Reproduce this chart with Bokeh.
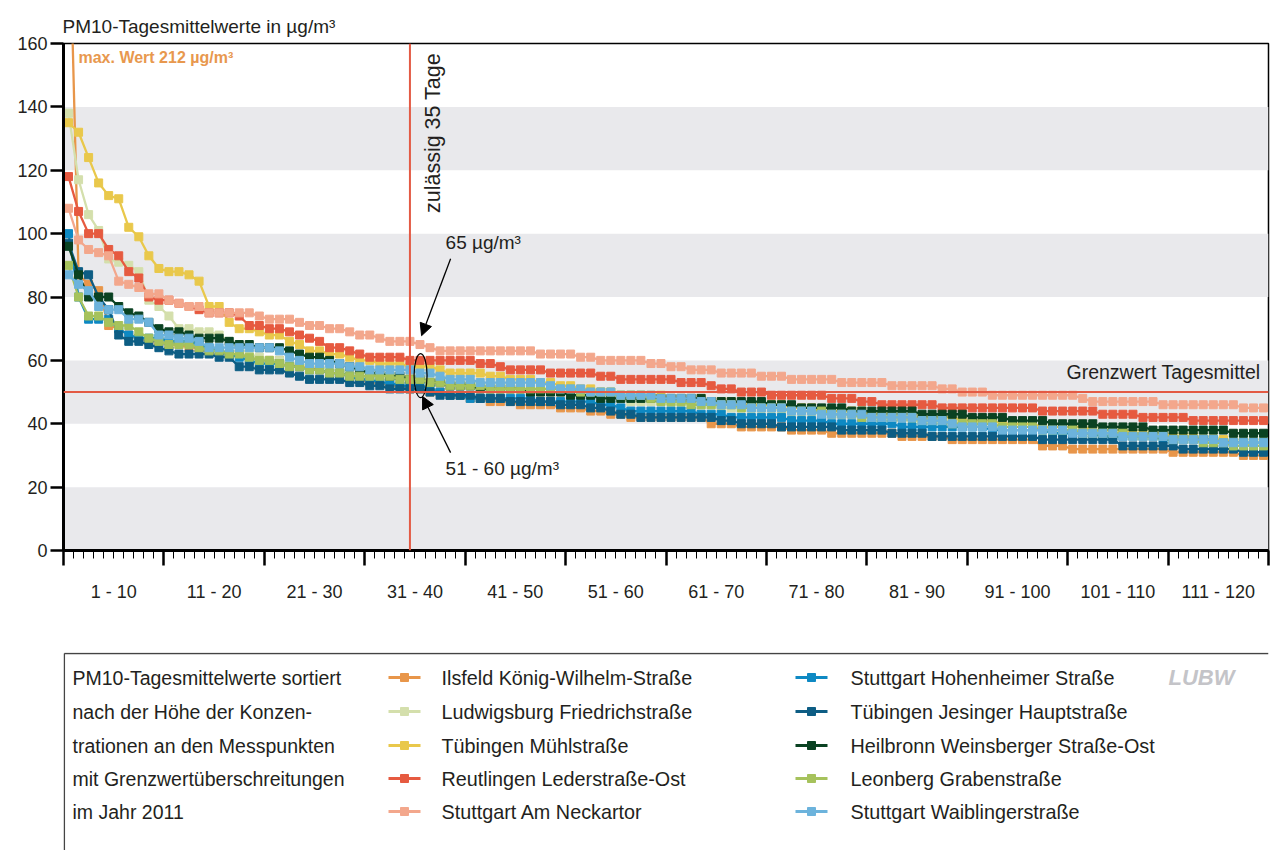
from bokeh.plotting import figure
from bokeh.models import (Range1d, FixedTicker, LinearAxis, Span, BoxAnnotation, Label,
                          Arrow, NormalHead, ColumnDataSource, CustomLabelingPolicy)
from bokeh.layouts import column
from bokeh.embed import file_html
from bokeh.resources import INLINE
from bokeh.core.properties import value

# ---------------- data ----------------
days = list(range(1, 121))
group_labels = ["1 - 10", "11 - 20", "21 - 30", "31 - 40", "41 - 50", "51 - 60",
                "61 - 70", "71 - 80", "81 - 90", "91 - 100", "101 - 110", "111 - 120"]
y_ticks = [0, 20, 40, 60, 80, 100, 120, 140, 160]

ilsfeld = [212, 87, 84, 82, 71, 70, 68, 67, 66, 66,
           65, 65, 64, 64, 63, 63, 62, 62, 61, 60,
           60, 60, 59, 58, 58, 57, 56, 56, 55, 54,
           53, 53, 52, 52, 51, 51, 50, 50, 49, 49,
           48, 48, 47, 47, 47, 46, 46, 46, 46, 45,
           45, 45, 44, 44, 43, 43, 42, 42, 42, 42,
           42, 42, 42, 42, 40, 40, 40, 39, 39, 39,
           39, 39, 38, 38, 38, 38, 37, 37, 37, 37,
           37, 37, 37, 36, 36, 36, 36, 36, 35, 35,
           35, 35, 35, 35, 35, 35, 35, 33, 33, 33,
           32, 32, 32, 32, 32, 32, 32, 32, 32, 32,
           31, 31, 31, 31, 31, 31, 31, 30, 30, 30]
ludwigsburg = [138, 117, 106, 101, 92, 91, 90, 88, 79, 77,
               74, 70, 70, 69, 69, 68, 66, 64, 62, 61,
               60, 60, 59, 59, 58, 58, 57, 57, 56, 56,
               56, 55, 55, 55, 55, 55, 54, 54, 53, 53,
               52, 52, 52, 52, 52, 51, 51, 51, 51, 51,
               50, 50, 50, 50, 49, 48, 47, 47, 47, 47,
               46, 46, 46, 46, 46, 45, 45, 45, 45, 45,
               45, 44, 44, 44, 44, 43, 43, 43, 43, 43,
               42, 42, 42, 42, 41, 41, 41, 41, 40, 40,
               40, 40, 40, 39, 39, 39, 39, 39, 38, 38,
               38, 38, 38, 37, 37, 37, 37, 37, 37, 36,
               36, 36, 36, 36, 36, 35, 35, 35, 35, 35]
muehlstrasse = [135, 132, 124, 116, 112, 111, 102, 99, 93, 89,
                88, 88, 87, 85, 77, 77, 72, 70, 70, 69,
                68, 68, 66, 65, 63, 63, 62, 62, 61, 60,
                60, 59, 59, 59, 58, 58, 58, 57, 56, 56,
                56, 56, 55, 55, 54, 54, 54, 53, 53, 52,
                52, 51, 51, 50, 50, 49, 49, 49, 49, 49,
                48, 48, 48, 48, 47, 47, 47, 46, 46, 46,
                46, 46, 45, 45, 45, 44, 44, 44, 44, 44,
                43, 43, 43, 42, 42, 42, 42, 42, 42, 41,
                41, 41, 41, 40, 40, 40, 40, 39, 39, 39,
                39, 39, 38, 38, 38, 38, 37, 37, 37, 37,
                36, 36, 36, 35, 35, 35, 34, 34, 33, 33]
reutlingen = [118, 107, 100, 100, 95, 93, 88, 86, 80, 79,
              79, 78, 77, 76, 75, 75, 75, 74, 71, 71,
              70, 70, 69, 68, 67, 66, 64, 64, 63, 62,
              61, 61, 61, 61, 60, 60, 60, 60, 60, 60,
              60, 59, 59, 58, 57, 57, 57, 57, 56, 56,
              56, 56, 56, 55, 55, 54, 54, 54, 54, 54,
              54, 53, 53, 53, 52, 51, 51, 50, 50, 50,
              49, 49, 49, 49, 49, 49, 48, 48, 48, 47,
              47, 46, 46, 46, 46, 46, 46, 45, 45, 45,
              45, 45, 45, 45, 45, 45, 45, 44, 44, 44,
              44, 44, 44, 43, 43, 43, 43, 42, 42, 42,
              42, 42, 41, 41, 41, 41, 41, 41, 41, 41]
neckartor = [108, 98, 95, 94, 93, 85, 84, 83, 81, 81,
             79, 78, 77, 77, 75, 75, 75, 75, 75, 74,
             73, 73, 73, 72, 71, 71, 70, 70, 69, 68,
             68, 67, 66, 66, 66, 65, 64, 63, 63, 63,
             63, 63, 63, 63, 63, 63, 63, 62, 62, 62,
             62, 61, 61, 60, 60, 60, 60, 60, 59, 59,
             58, 58, 57, 57, 57, 56, 56, 56, 56, 55,
             55, 55, 54, 54, 54, 54, 54, 53, 53, 53,
             53, 53, 52, 52, 52, 52, 52, 51, 51, 50,
             50, 50, 49, 49, 49, 49, 49, 49, 49, 49,
             49, 48, 47, 47, 47, 47, 47, 47, 47, 46,
             46, 46, 46, 46, 46, 46, 46, 45, 45, 45]
hohenheimer = [100, 80, 73, 73, 73, 70, 68, 67, 67, 67,
               66, 66, 66, 65, 64, 63, 62, 61, 60, 59,
               59, 59, 58, 58, 57, 57, 56, 56, 55, 54,
               54, 53, 53, 52, 52, 52, 51, 50, 49, 49,
               48, 48, 48, 48, 48, 48, 48, 47, 47, 47,
               47, 47, 47, 46, 46, 45, 44, 44, 44, 44,
               44, 44, 44, 43, 43, 43, 42, 42, 42, 42,
               42, 42, 41, 41, 41, 41, 40, 40, 40, 40,
               40, 40, 40, 39, 39, 39, 39, 39, 39, 39,
               39, 39, 38, 38, 38, 38, 38, 38, 37, 37,
               37, 37, 37, 36, 36, 36, 36, 36, 36, 35,
               35, 35, 35, 35, 35, 34, 34, 34, 34, 34]
jesinger = [97, 88, 87, 80, 76, 68, 66, 66, 65, 64,
            63, 62, 62, 62, 62, 61, 61, 58, 58, 57,
            57, 57, 56, 55, 54, 54, 54, 54, 53, 53,
            52, 52, 51, 51, 51, 51, 50, 49, 49, 49,
            49, 48, 48, 48, 47, 47, 47, 47, 47, 46,
            46, 46, 45, 45, 44, 43, 43, 42, 42, 42,
            42, 42, 42, 42, 42, 41, 41, 40, 40, 40,
            40, 39, 39, 39, 39, 39, 39, 38, 38, 38,
            38, 38, 37, 37, 37, 37, 36, 36, 36, 36,
            36, 36, 36, 36, 36, 36, 36, 35, 35, 35,
            35, 35, 35, 35, 35, 33, 33, 33, 33, 33,
            33, 32, 32, 32, 32, 32, 32, 31, 31, 31]
heilbronn = [96, 87, 80, 80, 80, 77, 75, 74, 72, 70,
             69, 69, 68, 67, 67, 67, 66, 65, 65, 64,
             64, 64, 63, 62, 61, 61, 60, 59, 58, 57,
             56, 56, 55, 55, 54, 54, 53, 53, 52, 52,
             52, 51, 51, 51, 51, 51, 50, 50, 50, 50,
             49, 49, 49, 48, 48, 48, 48, 48, 48, 48,
             48, 48, 48, 48, 47, 47, 47, 47, 47, 47,
             46, 46, 46, 45, 45, 45, 45, 45, 44, 44,
             44, 44, 44, 44, 44, 43, 43, 43, 43, 43,
             42, 42, 42, 42, 41, 41, 41, 41, 40, 40,
             40, 40, 40, 39, 39, 39, 39, 39, 38, 38,
             38, 38, 38, 38, 38, 38, 37, 37, 37, 37]
leonberg = [90, 80, 74, 74, 72, 71, 71, 69, 67, 66,
            65, 65, 65, 64, 63, 63, 62, 62, 61, 60,
            60, 59, 58, 58, 57, 57, 56, 56, 55, 55,
            55, 55, 55, 54, 54, 54, 53, 53, 52, 52,
            52, 52, 51, 51, 51, 51, 51, 51, 51, 51,
            51, 50, 50, 50, 50, 49, 49, 49, 48, 47,
            47, 47, 46, 46, 46, 46, 46, 45, 45, 45,
            45, 45, 44, 44, 44, 44, 43, 43, 43, 42,
            42, 42, 42, 42, 42, 41, 41, 41, 40, 40,
            40, 40, 40, 39, 39, 39, 39, 38, 38, 38,
            38, 37, 37, 37, 37, 37, 36, 36, 36, 36,
            35, 35, 35, 34, 34, 34, 33, 33, 33, 33]
waiblinger = [87, 84, 82, 77, 76, 76, 73, 73, 72, 68,
              68, 67, 67, 66, 64, 64, 64, 64, 64, 64,
              64, 63, 61, 60, 59, 59, 59, 59, 58, 58,
              57, 57, 57, 57, 57, 56, 56, 55, 54, 54,
              54, 53, 53, 53, 53, 53, 53, 53, 52, 51,
              51, 51, 50, 50, 50, 49, 49, 49, 49, 48,
              48, 48, 48, 47, 47, 46, 46, 46, 45, 45,
              45, 45, 44, 44, 44, 43, 43, 43, 43, 43,
              42, 42, 42, 42, 42, 41, 41, 41, 40, 39,
              39, 39, 39, 38, 38, 38, 38, 38, 38, 38,
              37, 37, 37, 37, 37, 36, 36, 36, 36, 36,
              35, 35, 35, 35, 35, 34, 34, 34, 34, 34]

station_names = ["Ilsfeld König-Wilhelm-Straße", "Ludwigsburg Friedrichstraße",
                 "Tübingen Mühlstraße", "Reutlingen Lederstraße-Ost",
                 "Stuttgart Am Neckartor", "Stuttgart Hohenheimer Straße",
                 "Tübingen Jesinger Hauptstraße", "Heilbronn Weinsberger Straße-Ost",
                 "Leonberg Grabenstraße", "Stuttgart Waiblingerstraße"]
series = [ilsfeld, ludwigsburg, muehlstrasse, reutlingen, neckartor,
          hohenheimer, jesinger, heilbronn, leonberg, waiblinger]
colors = ["#e8964a", "#d4dfac", "#e9c84b", "#e65a40", "#f3a78c",
          "#0e89c3", "#0d5d84", "#0a4222", "#a6c25c", "#6cb3dc"]

limit_value = 50
allowed_days = 35
max_value_text = "max. Wert 212 µg/m³"

FONT = "Liberation Sans"
TXT = "#231f20"
RED = "#e35a44"

# ---------------- main chart ----------------
p = figure(width=1270, height=652, output_backend="svg", toolbar_location=None,
           x_range=Range1d(0, 120), y_range=Range1d(0, 160),
           x_axis_type=None, min_border_left=63, min_border_right=2,
           min_border_top=43, min_border_bottom=102)
p.outline_line_color = "black"
p.outline_line_width = 1.5
p.ygrid.grid_line_color = None
p.title.text = "PM10-Tagesmittelwerte in µg/m³"
p.title.align = "left"
p.title.offset = -1
p.title.standoff = 14
p.title.text_font = FONT
p.title.text_font_size = "19px"
p.title.text_font_style = "normal"
p.title.text_color = TXT

ya = p.yaxis[0]
ya.ticker = FixedTicker(ticks=y_ticks)
ya.minor_tick_line_color = None
ya.major_tick_out = 13
ya.major_tick_in = 0
ya.major_tick_line_width = 2.5
ya.axis_line_width = 3
ya.major_label_standoff = 3
ya.major_label_text_font = FONT
ya.major_label_text_font_size = "18px"
ya.major_label_text_color = TXT

xa = LinearAxis(ticker=FixedTicker(ticks=list(range(0, 121, 10)), minor_ticks=list(range(0, 121))),
                axis_line_width=3, major_tick_out=15, major_tick_in=0, major_tick_line_width=2.5,
                minor_tick_out=8, minor_tick_in=0, minor_tick_line_width=1,
                major_label_text_font_size="1px", major_label_standoff=0,
                major_label_policy=CustomLabelingPolicy(code="return []"))
p.add_layout(xa, "below")
label_pos = [5 + 10 * i for i in range(12)]
xb = LinearAxis(ticker=FixedTicker(ticks=label_pos, minor_ticks=[]),
                major_label_overrides={pos: lab for pos, lab in zip(label_pos, group_labels)},
                axis_line_color=None, major_tick_line_color=None, minor_tick_line_color=None,
                major_tick_out=0, major_tick_in=0, major_label_standoff=12,
                major_label_text_font=FONT, major_label_text_font_size="18px",
                major_label_text_color=TXT)
p.add_layout(xb, "below")

for b in (0, 40, 80, 120):
    p.add_layout(BoxAnnotation(bottom=b, top=b + 20, fill_color="#e9e9ec", fill_alpha=1,
                               line_color=None, level="underlay"))

xpos = [d - 0.5 for d in days]
for vals, col in zip(series, colors):
    src = ColumnDataSource(dict(x=xpos, y=vals))
    p.line("x", "y", source=src, line_color=col, line_width=2.3)
    p.scatter("x", "y", source=src, marker="square", size=8, fill_color=col, line_color=col)

p.add_layout(Span(location=allowed_days - 0.5, dimension="height", line_color=RED, line_width=2))
p.add_layout(Span(location=limit_value, dimension="width", line_color=RED, line_width=2))

p.add_layout(Label(x=1.49, y=155.6, text=max_value_text, text_font=FONT, text_font_size="16px",
                   text_font_style="bold", text_baseline="middle", text_color="#e8984e"))
p.add_layout(Label(x=allowed_days - 0.5, y=106.5, x_offset=11, angle=1.5708,
                   text="zulässig 35 Tage", text_font=FONT, text_font_size="21.5px",
                   text_align="left", text_baseline="top", text_color=TXT))
p.add_layout(Label(x=120, y=56.2, x_offset=-8, text="Grenzwert Tagesmittel", text_font=FONT,
                   text_font_size="19.5px", text_align="right", text_baseline="middle",
                   text_color=TXT))
p.add_layout(Label(x=38.05, y=97.2, text="65 µg/m³", text_font=FONT, text_font_size="19px",
                   text_baseline="middle", text_color=TXT))
p.add_layout(Label(x=38.05, y=25.9, text="51 - 60 µg/m³", text_font=FONT, text_font_size="19px",
                   text_baseline="middle", text_color=TXT))
p.add_layout(Arrow(end=NormalHead(size=12, fill_color="black", line_color="black"),
                   x_start=38.55, y_start=92.1, x_end=35.66, y_end=67.8,
                   line_color="black", line_width=1.3))
p.add_layout(Arrow(end=NormalHead(size=12, fill_color="black", line_color="black"),
                   x_start=38.55, y_start=30.9, x_end=35.76, y_end=48.6,
                   line_color="black", line_width=1.3))
p.ellipse(x=[35.56], y=[55.2], width=13, height=44, width_units="screen", height_units="screen",
          fill_color=None, line_color="black", line_width=1.2)

# ---------------- legend panel (data units = page pixels) ----------------
q = figure(width=1270, height=198, output_backend="svg", toolbar_location=None,
           x_range=Range1d(63, 1268), y_range=Range1d(0, 198),
           x_axis_type=None, y_axis_type=None,
           min_border_left=63, min_border_right=2, min_border_top=0, min_border_bottom=0)
q.outline_line_color = None
q.grid.grid_line_color = None

q.line([63.8, 1268], [197, 197], line_color="#444444", line_width=1.5)
q.line([63.8, 63.8], [0, 197], line_color="#444444", line_width=1.5)

intro = ["PM10-Tagesmittelwerte sortiert", "nach der Höhe der Konzen-",
         "trationen an den  Messpunkten", "mit Grenzwertüberschreitungen", "im Jahr 2011"]
rows = [173, 139, 105, 72, 39]
q.text(x=[72] * 5, y=rows, text=intro, text_font=value(FONT), text_font_size="19.5px",
       text_baseline="middle", text_color=TXT)

for k, (name, col) in enumerate(zip(station_names, colors)):
    cx = 388 if k < 5 else 795
    yy = rows[k % 5]
    q.line([cx, cx + 32], [yy, yy], line_color=col, line_width=3)
    q.scatter([cx + 16], [yy], marker="square", size=8, fill_color=col, line_color=col)
    q.text(x=[cx + 53 if k < 5 else cx + 55], y=[yy], text=[name], text_font=value(FONT),
           text_font_size="19.8px", text_baseline="middle", text_color=TXT)

q.text(x=[1168], y=[173], text=["LUBW"], text_font=value(FONT),
       text_font_size="22px", text_font_style="bold italic", text_baseline="middle",
       text_color="#c4c4c8")

layout = column(p, q, spacing=0)
open("out.html", "w").write(file_html(layout, INLINE))
